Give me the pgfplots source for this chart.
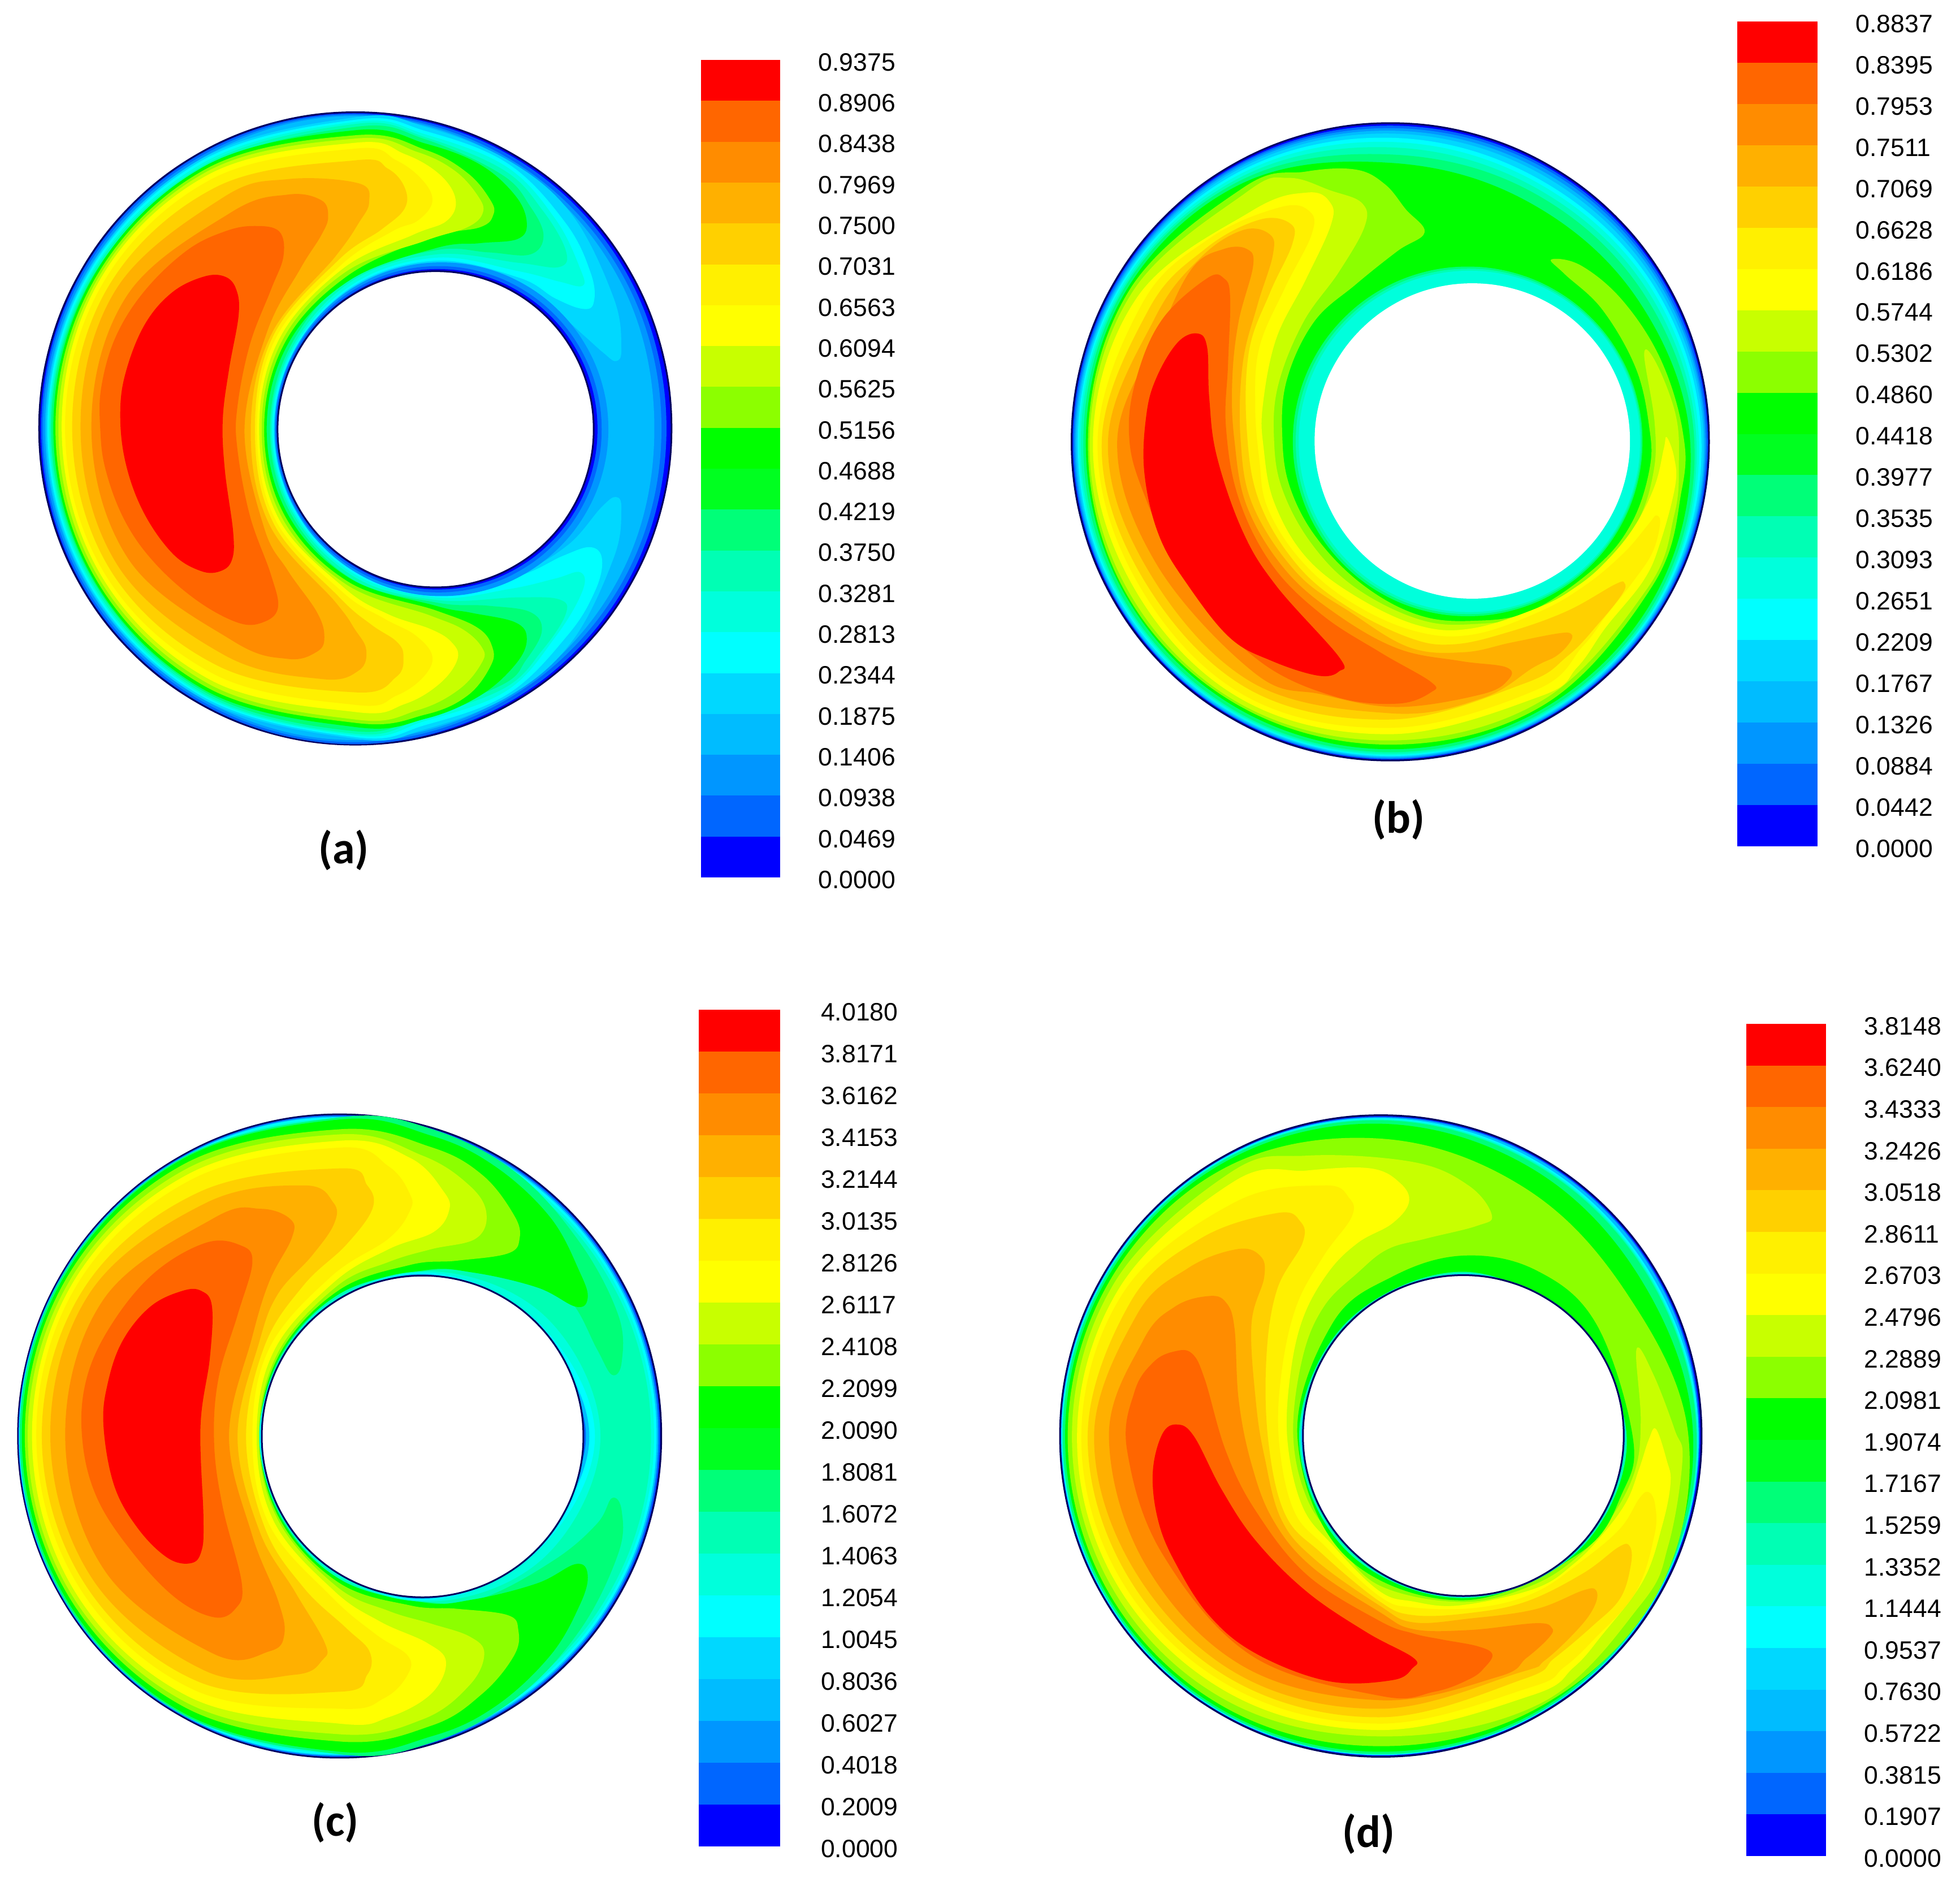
\documentclass[border=0pt]{standalone}
\usepackage{pgfplots}
\usepackage{pgfplotstable}
\pgfplotsset{compat=1.18}
\usepackage{fontspec}
\setmainfont{Liberation Sans}
\newfontfamily\capfont{Carlito}

% fluent 20 level rainbow
\definecolor{c0}{HTML}{0000FF}\definecolor{c1}{HTML}{0066FF}\definecolor{c2}{HTML}{0096FF}
\definecolor{c3}{HTML}{00BCFF}\definecolor{c4}{HTML}{00D8FF}\definecolor{c5}{HTML}{00FFFF}
\definecolor{c6}{HTML}{00FFDC}\definecolor{c7}{HTML}{00FFB4}\definecolor{c8}{HTML}{00FF78}
\definecolor{c9}{HTML}{00FF20}\definecolor{c10}{HTML}{00FF00}\definecolor{c11}{HTML}{8CFF00}
\definecolor{c12}{HTML}{C8FF00}\definecolor{c13}{HTML}{FFFF00}\definecolor{c14}{HTML}{FFF000}
\definecolor{c15}{HTML}{FFD000}\definecolor{c16}{HTML}{FFB000}\definecolor{c17}{HTML}{FF8C00}
\definecolor{c18}{HTML}{FF6600}\definecolor{c19}{HTML}{FF0000}
\definecolor{wall}{HTML}{000060}

\pgfplotstableread{
u v
1 0
0.966 0.259
0.866 0.5
0.707 0.707
0.5 0.866
0.259 0.966
0 1
-0.259 0.966
-0.5 0.866
-0.707 0.707
-0.866 0.5
-0.966 0.259
-1 0
-0.966 -0.259
-0.866 -0.5
-0.707 -0.707
-0.5 -0.866
-0.259 -0.966
0 -1
0.259 -0.966
0.5 -0.866
0.707 -0.707
0.866 -0.5
0.966 -0.259
}\unitcircle

\newcommand\lev[2]{\addplot[fill=#1,draw=none,smooth cycle,tension=0.63] coordinates {#2};}
\newcommand\disc[5][draw=none]{\addplot[fill=#2,#1,smooth cycle,tension=0.63] table[x expr=#3+#5*\thisrow{u},y expr=#4+#5*\thisrow{v}] {\unitcircle};}
\newcommand\band[2]{\addplot[fill=c#1,draw=none] coordinates {(0,#1)(1,#1)(1,#2)(0,#2)};}
\newcommand\bands{\band{0}{1}\band{1}{2}\band{2}{3}\band{3}{4}\band{4}{5}\band{5}{6}\band{6}{7}\band{7}{8}\band{8}{9}\band{9}{10}\band{10}{11}\band{11}{12}\band{12}{13}\band{13}{14}\band{14}{15}\band{15}{16}\band{16}{17}\band{17}{18}\band{18}{19}\band{19}{20}}

\pgfplotsset{
 panel/.style={scale only axis,hide axis,y dir=reverse,anchor=north west,clip=false},
 cbar/.style={scale only axis,anchor=north west,axis line style={draw=none},
  xmin=0,xmax=1,ymin=0,ymax=20,xtick=\empty,ytick={0,...,20},ytick pos=right,
  major tick length=0pt,clip=false,
  yticklabel style={font=\fontsize{8.9}{10}\selectfont,anchor=west,xshift=10pt,yshift=-0.8pt}},
}

\begin{document}
\begin{tikzpicture}
\path (0,0) rectangle (693.4pt,-667pt);

% ---------- (a)
\begin{axis}[panel,at={(10pt,-36pt)},width=232pt,height=230pt,xmin=0,xmax=1568,ymin=0,ymax=1554.5]
\disc[draw=wall,line width=0.6pt]{c0}{782}{781}{756}
\lev{c1}{(782,28)(1157,131)(1429,407)(1526,781)(1429,1155)(1157,1431)(782,1536)(406,1434)(130,1158)(31,781)(130,404)(406,128)}
\lev{c2}{(782,31)(1153,138)(1420,413)(1514,781)(1420,1149)(1153,1424)(782,1531)(408,1429)(134,1155)(35,781)(134,407)(408,133)}
\lev{c3}{(782,34)(1150,143)(1410,419)(1497,781)(1410,1143)(1150,1419)(782,1526)(410,1424)(138,1152)(40,781)(138,410)(410,138)}
\lev{c4}{(782,37)(950,60)(1151,142)(1300,270)(1400,470)(1418,590)(1405,620)(1375,600)(1330,560)(1259,498)(1172,440)(974,387)(780,445)(640,592)(590,783)(640,975)(782,1118)(974,1173)(1172,1125)(1290,1060)(1370,970)(1405,945)(1418,975)(1400,1090)(1300,1290)(1151,1420)(950,1500)(782,1523)(411,1424)(140,1151)(43,781)(140,411)(411,138)}
\lev{c5}{(782,43)(950,70)(1147,148)(1285,290)(1345,410)(1352,480)(1325,495)(1260,470)(1172,420)(974,380)(778,440)(639,590)(587,783)(639,977)(780,1122)(974,1179)(1170,1135)(1280,1085)(1345,1065)(1372,1095)(1355,1170)(1290,1275)(1148,1415)(950,1490)(782,1519)(413,1420)(143,1150)(46,781)(143,412)(413,142)}
\lev{c6}{(782,48)(950,78)(1143,155)(1260,280)(1320,400)(1325,440)(1270,430)(1172,405)(974,373)(778,435)(635,588)(584,783)(635,980)(778,1128)(974,1185)(1150,1165)(1260,1140)(1320,1125)(1325,1170)(1260,1280)(1144,1408)(950,1480)(782,1515)(415,1417)(147,1148)(49,781)(147,414)(416,147)}
\lev{c7}{(782,53)(950,85)(1138,164)(1230,260)(1285,355)(1270,395)(1172,385)(974,365)(775,428)(632,586)(581,783)(632,982)(778,1135)(974,1191)(1170,1185)(1270,1190)(1285,1225)(1230,1310)(1140,1401)(950,1470)(782,1511)(417,1414)(150,1146)(52,781)(150,416)(419,152)}
\lev{c8}{(782,60)(950,90)(1132,174)(1200,250)(1232,320)(1200,365)(1100,360)(974,355)(770,420)(628,582)(578,783)(628,985)(775,1142)(974,1197)(1100,1205)(1200,1220)(1228,1265)(1190,1335)(1135,1393)(950,1462)(782,1505)(420,1410)(154,1144)(55,781)(153,419)(422,158)}
\lev{c10}{(782,68)(950,100)(1080,150)(1165,225)(1192,290)(1170,328)(1080,338)(974,350)(768,427)(621,579)(570,783)(621,987)(768,1139)(974,1205)(1060,1222)(1165,1245)(1192,1285)(1165,1345)(1080,1420)(950,1475)(782,1495)(421,1406)(156,1142)(60,781)(155,419)(420,155)}
\lev{c11}{(782,80)(950,115)(1050,170)(1105,235)(1112,270)(1080,300)(960,325)(762,417)(614,575)(564,783)(614,991)(764,1147)(974,1216)(1075,1258)(1110,1305)(1105,1350)(1050,1420)(950,1465)(782,1485)(425,1399)(161,1140)(65,781)(160,422)(424,161)}
\lev{c12}{(782,88)(930,120)(1020,165)(1075,225)(1087,265)(1050,300)(950,332)(757,408)(607,571)(558,783)(607,995)(760,1154)(960,1228)(1040,1262)(1085,1305)(1085,1340)(1030,1405)(930,1455)(782,1477)(430,1391)(167,1136)(72,781)(165,425)(427,167)}
\lev{c13}{(782,98)(900,125)(985,175)(1022,235)(1000,285)(920,318)(752,399)(600,567)(552,783)(600,999)(755,1162)(860,1225)(960,1260)(1010,1290)(1027,1330)(985,1390)(900,1440)(782,1459)(435,1382)(174,1132)(80,781)(170,428)(431,174)}
\lev{c14}{(782,112)(880,140)(945,190)(966,240)(930,285)(870,310)(747,391)(593,563)(547,783)(593,1003)(750,1171)(850,1235)(925,1275)(966,1325)(945,1375)(880,1420)(782,1442)(443,1368)(182,1127)(88,781)(179,433)(438,185)}
\lev{c15}{(782,140)(860,160)(900,205)(900,255)(845,305)(741,379)(586,559)(542,783)(586,1007)(743,1184)(820,1250)(880,1290)(897,1325)(880,1375)(782,1412)(454,1349)(196,1119)(105,781)(192,441)(449,204)}
\lev{c16}{(620,185)(790,195)(815,240)(790,290)(735,369)(581,556)(532,783)(577,1012)(735,1197)(780,1260)(808,1310)(790,1360)(700,1380)(469,1323)(214,1109)(125,781)(209,450)(464,230)}
\lev{c17}{(620,222)(700,235)(717,275)(700,320)(650,400)(571,550)(517,783)(564,1019)(620,1120)(690,1220)(708,1280)(690,1315)(620,1332)(489,1289)(240,1094)(151,781)(235,465)(484,265)}
\lev{c18}{(470,310)(540,297)(600,310)(610,370)(580,450)(530,580)(500,730)(500,830)(530,990)(580,1130)(597,1210)(560,1245)(500,1245)(400,1190)(300,1100)(230,1000)(185,880)(172,780)(175,680)(210,560)(280,450)(380,355)}
\lev{c19}{(420,418)(470,418)(497,448)(503,510)(480,640)(465,760)(470,880)(490,1030)(487,1095)(460,1122)(413,1122)(345,1080)(275,980)(232,860)(220,740)(235,640)(280,530)(345,455)}
\disc{c2}{988}{783}{399}
\disc{c1}{981}{783}{390}
\disc{c0}{978}{783}{383}
\disc[draw=wall,line width=0.6pt]{white}{974}{783}{378}
\end{axis}

% ---------- (b)
\begin{axis}[panel,at={(376pt,-40pt)},width=232pt,height=230pt,xmin=0,xmax=1568,ymin=0,ymax=1554.5]
\disc[draw=wall,line width=0.6pt]{c0}{783}{786}{762}
\lev{c1}{(783,30)(1161,131)(1439,408)(1542,786)(1440,1166)(1162,1443)(783,1545)(404,1443)(126,1165)(24,786)(126,407)(405,130)}
\lev{c2}{(783,36)(1158,136)(1434,410)(1538,786)(1438,1164)(1161,1442)(783,1543)(405,1442)(127,1164)(27,786)(129,409)(406,133)}
\lev{c3}{(783,42)(1154,143)(1430,413)(1535,786)(1436,1163)(1160,1440)(783,1541)(405,1440)(129,1164)(30,786)(132,410)(408,136)}
\lev{c4}{(783,49)(1150,150)(1424,416)(1532,786)(1434,1162)(1160,1438)(783,1539)(406,1438)(131,1163)(33,786)(134,412)(410,140)}
\lev{c5}{(783,59)(1144,161)(1417,420)(1527,786)(1432,1160)(1158,1436)(783,1537)(408,1436)(133,1161)(36,786)(137,413)(413,145)}
\lev{c6}{(783,69)(1139,169)(1410,424)(1521,786)(1429,1159)(1158,1435)(783,1535)(408,1435)(136,1160)(39,786)(140,415)(416,150)}
\lev{c7}{(783,82)(1133,180)(1401,429)(1515,786)(1427,1158)(1156,1432)(783,1532)(410,1432)(139,1158)(43,786)(144,417)(420,156)}
\lev{c8}{(783,99)(1126,191)(1391,435)(1510,786)(1423,1156)(1154,1429)(783,1528)(412,1429)(142,1156)(49,786)(147,419)(423,162)}
\lev{c10}{(783,119)(1114,213)(1374,445)(1500,786)(1417,1152)(1150,1423)(783,1521)(416,1422)(149,1152)(55,786)(153,422)(427,169)}
\lev{c11}{(700,135)(770,170)(820,230)(865,285)(800,330)(700,410)(600,500)(535,640)(525,780)(545,900)(610,1020)(720,1130)(850,1200)(979,1214)(1120,1190)(1275,1085)(1360,980)(1403,850)(1402,750)(1370,610)(1290,470)(1200,385)(1168,350)(1240,365)(1340,450)(1430,590)(1482,760)(1480,900)(1410,1130)(1150,1415)(783,1510)(418,1415)(152,1150)(60,786)(158,425)(432,178)(580,140)}
\lev{c12}{(640,185)(715,215)(722,270)(660,380)(575,500)(515,650)(505,780)(525,900)(595,1030)(700,1135)(850,1210)(979,1222)(1130,1195)(1280,1092)(1370,985)(1412,860)(1415,740)(1390,575)(1420,600)(1465,720)(1473,830)(1462,960)(1395,1140)(1145,1405)(783,1500)(420,1410)(158,1145)(64,786)(165,430)(438,190)(540,155)}
\lev{c13}{(585,190)(640,215)(640,270)(580,400)(510,540)(478,700)(480,800)(505,930)(580,1060)(700,1155)(850,1225)(979,1232)(1140,1181)(1230,1131)(1298,1073)(1365,991)(1415,892)(1437,802)(1444,775)(1462,825)(1464,892)(1428,1028)(1388,1118)(1298,1230)(1230,1325)(1140,1395)(783,1485)(425,1400)(170,1135)(72,786)(178,440)(450,235)}
\lev{c14}{(520,225)(590,235)(595,290)(530,420)(470,560)(460,700)(470,830)(490,945)(570,1070)(690,1170)(840,1238)(979,1247)(1140,1192)(1252,1127)(1343,1050)(1401,982)(1419,962)(1428,982)(1410,1050)(1365,1118)(1298,1203)(1243,1275)(1130,1380)(783,1470)(430,1390)(180,1125)(83,786)(190,455)(350,300)}
\lev{c15}{(470,255)(545,265)(548,315)(495,430)(445,570)(440,760)(470,930)(560,1080)(680,1180)(830,1255)(937,1270)(1072,1239)(1207,1190)(1320,1127)(1343,1124)(1338,1149)(1284,1217)(1207,1298)(1100,1365)(783,1450)(440,1375)(190,1110)(93,786)(205,470)(340,325)}
\lev{c16}{(430,280)(495,290)(502,340)(465,460)(430,600)(425,780)(455,940)(560,1100)(690,1195)(830,1278)(960,1289)(1072,1266)(1185,1244)(1216,1246)(1212,1266)(1180,1298)(1126,1325)(1000,1400)(783,1435)(450,1360)(205,1095)(108,786)(220,490)(330,345)}
\lev{c17}{(385,325)(440,325)(455,365)(420,500)(405,640)(410,780)(440,940)(530,1090)(650,1195)(800,1280)(950,1310)(1060,1325)(1065,1355)(1000,1390)(800,1420)(620,1390)(460,1340)(225,1080)(130,786)(235,520)(310,370)}
\lev{c18}{(345,395)(385,395)(400,440)(395,600)(390,750)(420,920)(500,1080)(620,1200)(760,1290)(880,1360)(880,1385)(800,1412)(650,1395)(470,1310)(300,1130)(190,900)(158,760)(180,620)(240,490)}
\lev{c19}{(275,548)(322,527)(345,560)(350,680)(368,820)(430,1000)(510,1130)(660,1300)(660,1335)(610,1345)(500,1310)(400,1255)(300,1130)(230,1010)(195,860)(200,720)(225,630)}
\disc{c8}{968}{785}{418}
\disc{c7}{970}{785}{413}
\disc{c6}{972}{785}{408}
\disc{white}{979}{784}{377}
\end{axis}

% ---------- (c)
\begin{axis}[panel,at={(2pt,-390pt)},width=236pt,height=236pt,xmin=0,xmax=1568,ymin=0,ymax=1568]
\disc[draw=wall,line width=0.6pt]{c0}{785}{784}{756}
\disc{c1}{784}{784}{754}
\disc{c3}{782.5}{784}{751.5}
\disc{c5}{781}{784}{749}
\disc{c6}{779}{784}{745}
\disc{c7}{776}{784}{741}
\lev{c8}{(785,35)(1000,62)(1200,165)(1350,330)(1440,500)(1448,610)(1425,640)(1390,580)(1330,470)(1250,430)(1100,398)(980,397)(786,449)(650,595)(600,785)(650,975)(786,1121)(980,1173)(1120,1165)(1290,1075)(1390,990)(1425,930)(1448,960)(1440,1060)(1350,1240)(1200,1400)(1000,1505)(785,1532)(410,1435)(133,1160)(33,784)(133,408)(410,133)}
\lev{c10}{(785,40)(1000,78)(1150,150)(1280,270)(1350,400)(1368,460)(1340,480)(1250,435)(1100,400)(980,395)(786,449)(647,593)(599,785)(647,977)(786,1121)(980,1175)(1100,1168)(1250,1130)(1340,1085)(1368,1110)(1350,1180)(1280,1300)(1150,1420)(1000,1490)(785,1526)(411,1431)(137,1158)(38,784)(137,410)(411,136)}
\lev{c11}{(785,63)(1000,105)(1120,170)(1195,265)(1208,320)(1180,355)(1060,372)(950,382)(782,442)(644,591)(597,785)(644,979)(782,1128)(950,1182)(1060,1190)(1180,1205)(1205,1240)(1195,1300)(1120,1390)(1000,1465)(785,1502)(418,1420)(144,1154)(45,784)(143,413)(417,146)}
\lev{c12}{(785,75)(980,125)(1090,195)(1130,260)(1105,320)(1000,345)(900,375)(777,433)(640,588)(595,785)(640,981)(777,1137)(900,1195)(1000,1225)(1090,1255)(1125,1295)(1090,1370)(980,1450)(785,1485)(424,1410)(151,1150)(52,784)(151,418)(423,157)}
\lev{c13}{(785,90)(950,130)(1030,210)(1042,255)(1005,305)(900,345)(771,423)(631,583)(590,785)(631,986)(771,1147)(880,1220)(990,1270)(1035,1315)(1000,1390)(900,1445)(785,1460)(431,1397)(160,1145)(62,784)(159,422)(430,168)}
\lev{c14}{(785,106)(900,150)(950,215)(950,255)(900,320)(764,410)(620,577)(580,785)(620,993)(764,1160)(870,1250)(945,1300)(945,1345)(890,1400)(785,1425)(441,1380)(172,1138)(72,784)(168,428)(437,181)}
\lev{c15}{(785,155)(850,195)(862,250)(800,335)(700,430)(609,571)(565,785)(609,999)(700,1140)(800,1235)(855,1290)(850,1345)(785,1385)(452,1361)(185,1130)(85,784)(184,437)(454,211)}
\lev{c16}{(700,195)(770,235)(772,285)(720,360)(640,450)(596,563)(545,785)(596,1006)(680,1150)(750,1270)(745,1310)(680,1345)(467,1335)(204,1120)(105,784)(199,446)(469,237)}
\lev{c17}{(600,250)(670,275)(672,320)(620,420)(579,553)(525,785)(579,1016)(640,1170)(655,1250)(620,1290)(489,1296)(234,1102)(140,784)(230,463)(489,272)}
\lev{c18}{(470,330)(550,335)(580,375)(545,500)(500,650)(490,800)(510,950)(555,1130)(540,1190)(490,1210)(400,1165)(300,1060)(215,930)(180,790)(190,650)(250,520)(350,400)}
\lev{c19}{(415,443)(460,443)(485,480)(480,600)(458,760)(465,980)(460,1055)(435,1083)(380,1070)(310,1000)(255,900)(230,760)(240,660)(275,560)(340,480)}
\lev{c6}{(980,397)(1265,500)(1398,785)(1265,1070)(980,1173)(709,1056)(596,785)(709,514)}
\lev{c5}{(980,400)(1250,515)(1385,785)(1250,1055)(980,1170)(712,1053)(598,785)(712,517)}
\lev{c3}{(980,403)(1240,525)(1372,785)(1240,1045)(980,1167)(714,1051)(600,785)(714,519)}
\lev{c1}{(980,405)(1232,533)(1364,785)(1232,1037)(980,1165)(715,1050)(602,785)(715,520)}
\disc[draw=wall,line width=0.6pt]{white}{980}{785}{378}
\end{axis}

% ---------- (d)
\begin{axis}[panel,at={(372pt,-390pt)},width=236pt,height=236pt,xmin=0,xmax=1568,ymin=0,ymax=1568]
\disc[draw=wall,line width=0.6pt]{c0}{774}{784}{754}
\disc{c1}{773}{784}{751}
\disc{c3}{772}{784}{749}
\lev{c5}{(774,37)(1145,141)(1415,414)(1521,784)(1424,1159)(1150,1434)(774,1534)(398,1434)(124,1160)(23,784)(124,409)(399,134)}
\lev{c6}{(774,39)(1144,144)(1412,416)(1519,784)(1423,1158)(1149,1433)(774,1533)(399,1433)(125,1159)(25,784)(125,410)(400,136)}
\lev{c7}{(774,41)(1142,146)(1410,417)(1517,784)(1422,1158)(1148,1432)(774,1532)(400,1432)(126,1159)(26,784)(126,410)(400,137)}
\lev{c8}{(774,42)(1141,148)(1408,418)(1516,784)(1421,1158)(1148,1432)(774,1531)(400,1432)(126,1158)(27,784)(127,411)(401,138)}
\lev{c10}{(774,50)(1135,159)(1392,427)(1508,784)(1417,1155)(1146,1428)(774,1526)(402,1428)(130,1156)(32,784)(131,413)(404,142)}
\lev{c11}{(774,85)(1111,200)(1353,450)(1497,784)(1423,1155)(1145,1422)(774,1513)(406,1421)(135,1153)(38,784)(138,417)(409,153)}
\lev{c12}{(850,140)(980,195)(1035,265)(1000,290)(880,320)(790,345)(720,400)(640,480)(590,600)(568,780)(600,930)(670,1030)(770,1135)(968,1174)(1130,1135)(1240,1065)(1310,985)(1370,870)(1385,750)(1375,580)(1415,640)(1465,770)(1483,840)(1450,1040)(1385,1180)(1150,1412)(774,1490)(410,1405)(145,1145)(48,784)(147,425)(420,165)(600,125)}
\lev{c13}{(750,155)(820,190)(840,235)(800,285)(720,330)(650,400)(590,510)(560,650)(555,800)(590,950)(660,1040)(770,1148)(850,1173)(961,1182)(1138,1142)(1227,1085)(1293,1018)(1351,939)(1382,859)(1404,792)(1421,768)(1446,841)(1455,894)(1435,996)(1390,1125)(1293,1253)(1227,1328)(1130,1393)(774,1475)(420,1390)(155,1135)(60,784)(160,435)(430,185)(600,160)}
\lev{c14}{(640,195)(700,225)(705,270)(640,360)(575,480)(540,640)(535,800)(570,960)(645,1045)(770,1160)(850,1187)(1005,1187)(1138,1151)(1249,1076)(1337,1001)(1382,930)(1404,916)(1419,947)(1417,1018)(1373,1151)(1275,1262)(1204,1328)(1125,1375)(774,1460)(425,1375)(165,1125)(70,784)(170,445)(430,235)}
\lev{c15}{(530,260)(585,280)(590,330)(530,440)(505,600)(510,800)(550,970)(635,1060)(770,1172)(850,1205)(983,1200)(1116,1173)(1249,1107)(1333,1045)(1359,1043)(1362,1085)(1337,1165)(1271,1231)(1182,1306)(1110,1355)(774,1445)(430,1360)(180,1115)(85,784)(185,470)(350,320)}
\lev{c16}{(435,345)(490,360)(500,410)(470,520)(480,700)(500,830)(540,980)(620,1075)(770,1182)(850,1222)(983,1213)(1138,1191)(1249,1147)(1280,1147)(1277,1182)(1240,1235)(1160,1311)(1100,1340)(774,1425)(440,1345)(195,1100)(100,784)(200,500)(320,390)}
\lev{c17}{(370,455)(410,470)(430,530)(440,700)(470,850)(520,980)(610,1090)(770,1197)(850,1238)(983,1240)(1138,1224)(1176,1235)(1169,1258)(1116,1306)(1049,1350)(774,1405)(450,1325)(220,1085)(135,784)(215,560)(290,480)}
\lev{c18}{(290,585)(330,590)(360,650)(410,820)(480,960)(600,1110)(770,1218)(850,1248)(916,1262)(1001,1278)(1036,1297)(1018,1328)(983,1355)(900,1385)(774,1395)(470,1300)(260,1060)(178,820)(195,680)(240,610)}
\lev{c19}{(260,780)(295,757)(335,785)(400,910)(480,1030)(600,1150)(740,1245)(850,1305)(848,1330)(800,1358)(650,1360)(480,1295)(370,1205)(290,1080)(250,980)(238,870)}
\lev{c10}{(968,360)(1140,395)(1280,520)(1366,785)(1341,919)(1243,1058)(968,1170)(690,1065)(578,785)(660,520)(800,410)}
\lev{c7}{(968,398)(1215,520)(1352,785)(1240,1052)(968,1165)(695,1055)(582,785)(695,515)}
\lev{c4}{(968,402)(1233,520)(1348,785)(1237,1050)(968,1162)(700,1050)(586,785)(700,520)}
\disc{c1}{968}{783}{379}
\disc[draw=wall,line width=0.6pt]{white}{968}{783}{377}
\end{axis}

% ---------- colour bars
\begin{axis}[cbar,at={(248pt,-21.2pt)},width=28pt,height=289.2pt,
 yticklabels={0.0000,0.0469,0.0938,0.1406,0.1875,0.2344,0.2813,0.3281,0.3750,0.4219,0.4688,0.5156,0.5625,0.6094,0.6563,0.7031,0.7500,0.7969,0.8438,0.8906,0.9375}]
\bands
\end{axis}
\begin{axis}[cbar,at={(614.6pt,-7.6pt)},width=28.4pt,height=291.8pt,
 yticklabels={0.0000,0.0442,0.0884,0.1326,0.1767,0.2209,0.2651,0.3093,0.3535,0.3977,0.4418,0.4860,0.5302,0.5744,0.6186,0.6628,0.7069,0.7511,0.7953,0.8395,0.8837}]
\bands
\end{axis}
\begin{axis}[cbar,at={(247.2pt,-357.2pt)},width=28.8pt,height=296pt,
 yticklabel style={xshift=0.9pt},
 yticklabels={0.0000,0.2009,0.4018,0.6027,0.8036,1.0045,1.2054,1.4063,1.6072,1.8081,2.0090,2.2099,2.4108,2.6117,2.8126,3.0135,3.2144,3.4153,3.6162,3.8171,4.0180}]
\bands
\end{axis}
\begin{axis}[cbar,at={(617.8pt,-362.2pt)},width=28.2pt,height=294.4pt,
 yticklabels={0.0000,0.1907,0.3815,0.5722,0.7630,0.9537,1.1444,1.3352,1.5259,1.7167,1.9074,2.0981,2.2889,2.4796,2.6703,2.8611,3.0518,3.2426,3.4333,3.6240,3.8148}]
\bands
\end{axis}

\node[font=\capfont\bfseries\fontsize{16}{18}\selectfont] at (121.6pt,-300.8pt) {(a)};
\node[font=\capfont\bfseries\fontsize{16}{18}\selectfont] at (494.8pt,-290pt) {(b)};
\node[font=\capfont\bfseries\fontsize{16}{18}\selectfont] at (118.6pt,-644.8pt) {(c)};
\node[font=\capfont\bfseries\fontsize{16}{18}\selectfont] at (484.2pt,-648.8pt) {(d)};
\end{tikzpicture}
\end{document}
